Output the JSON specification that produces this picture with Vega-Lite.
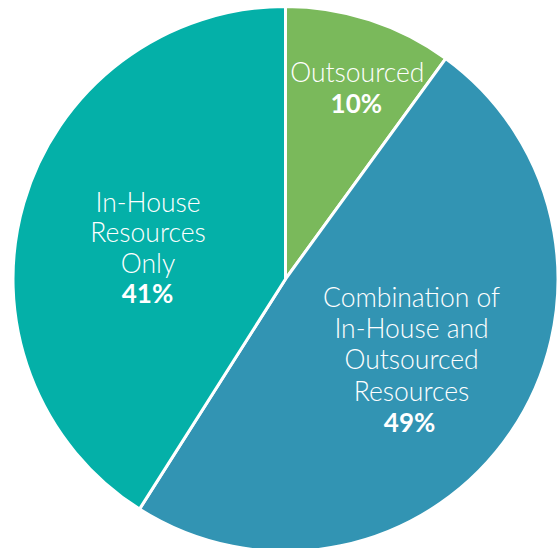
{
  "$schema": "https://vega.github.io/schema/vega-lite/v6.json",
  "autosize": {"type": "none"},
  "width": 545,
  "height": 538,
  "padding": {"left": 13, "top": 10, "right": 0, "bottom": 0},
  "background": "white",
  "config": {"view": {"stroke": null}},
  "data": {
    "values": [
      {"category": "Outsourced", "idx": 1, "value": 10, "label": "Outsourced", "pct": "10%"},
      {"category": "Combination", "idx": 2, "value": 49, "label": "Combination of\nIn-House and\nOutsourced\nResources", "pct": "49%"},
      {"category": "In-House", "idx": 3, "value": 41, "label": "In-House\nResources\nOnly", "pct": "41%"}
    ]
  },
  "encoding": {
    "theta": {"field": "value", "type": "quantitative", "stack": true},
    "order": {"field": "idx", "type": "quantitative"}
  },
  "layer": [
    {
      "mark": {"type": "arc", "outerRadius": 272.5, "stroke": "white", "strokeWidth": 3},
      "encoding": {
        "color": {
          "field": "category",
          "type": "nominal",
          "scale": {"domain": ["Outsourced", "Combination", "In-House"], "range": ["#7AB95B", "#3294B3", "#04B0A8"]},
          "legend": null
        }
      }
    },
    {
      "mark": {"type": "text", "radius": 200, "dx": 10, "dy": -7, "baseline": "alphabetic", "align": "center", "font": "Lato", "fontSize": 26.5, "fontWeight": 300, "lineHeight": 31.3, "lineBreak": "\n", "color": "white"},
      "encoding": {
        "detail": {"field": "category"},
        "text": {"condition": {"test": "datum.category === 'Outsourced'", "field": "label"}, "value": ""}
      }
    },
    {
      "mark": {"type": "text", "radius": 200, "dx": 9, "dy": 24.5, "baseline": "alphabetic", "align": "center", "font": "Lato", "fontSize": 26, "fontWeight": "bold", "color": "white"},
      "encoding": {
        "detail": {"field": "category"},
        "text": {"condition": {"test": "datum.category === 'Outsourced'", "field": "pct"}, "value": ""}
      }
    },
    {
      "mark": {"type": "text", "radius": 150, "dx": 2, "dy": -56.6, "baseline": "alphabetic", "align": "center", "font": "Lato", "fontSize": 26.5, "fontWeight": 300, "lineHeight": 31.3, "lineBreak": "\n", "color": "white"},
      "encoding": {
        "detail": {"field": "category"},
        "text": {"condition": {"test": "datum.category === 'Combination'", "field": "label"}, "value": ""}
      }
    },
    {
      "mark": {"type": "text", "radius": 150, "dx": 0, "dy": 68.4, "baseline": "alphabetic", "align": "center", "font": "Lato", "fontSize": 26, "fontWeight": "bold", "color": "white"},
      "encoding": {
        "detail": {"field": "category"},
        "text": {"condition": {"test": "datum.category === 'Combination'", "field": "pct"}, "value": ""}
      }
    },
    {
      "mark": {"type": "text", "radius": 140, "dx": -3, "dy": -28.2, "baseline": "alphabetic", "align": "center", "font": "Lato", "fontSize": 26.5, "fontWeight": 300, "lineHeight": 30.5, "lineBreak": "\n", "color": "white"},
      "encoding": {
        "detail": {"field": "category"},
        "text": {"condition": {"test": "datum.category === 'In-House'", "field": "label"}, "value": ""}
      }
    },
    {
      "mark": {"type": "text", "radius": 140, "dx": -3.6, "dy": 63.4, "baseline": "alphabetic", "align": "center", "font": "Lato", "fontSize": 26, "fontWeight": "bold", "color": "white"},
      "encoding": {
        "detail": {"field": "category"},
        "text": {"condition": {"test": "datum.category === 'In-House'", "field": "pct"}, "value": ""}
      }
    }
  ]
}
